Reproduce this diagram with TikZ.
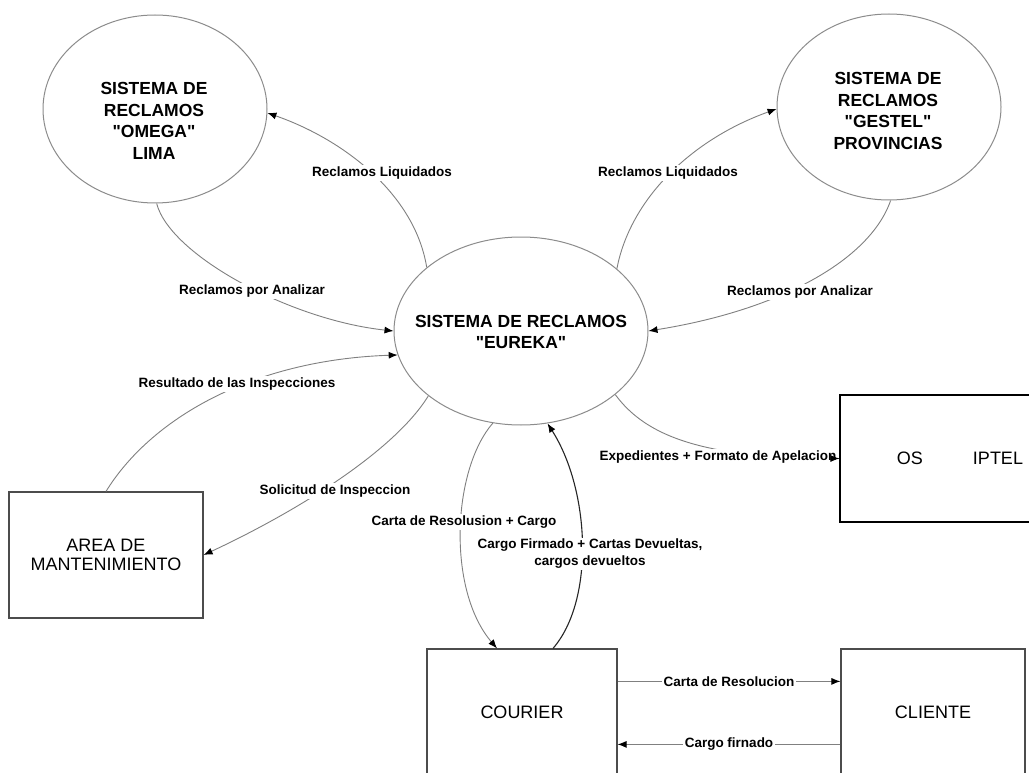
\documentclass[tikz,border=0pt]{standalone}
\usepackage{fontspec}
\setmainfont{Liberation Sans}[Ligatures=TeXOff]
\usetikzlibrary{arrows.meta,shapes.geometric,calc}
\begin{document}
\begin{tikzpicture}[x=1pt,y=-1pt,
  proc/.style={draw=black!45, line width=1pt, ellipse, inner sep=0pt},
  ptext/.style={font=\fontsize{17.5}{21.5}\selectfont\bfseries, align=center, inner sep=0pt},
  ent/.style={draw=black!70, line width=1.2pt, rectangle, inner sep=0pt, font=\fontsize{18}{19.5}\selectfont, align=center},
  flow/.style={draw=black!50, line width=0.9pt, -{Latex[length=9pt,width=7pt,black]}},
  lbl/.style={font=\fontsize{13.5}{17}\selectfont\bfseries, fill=white, inner sep=1.5pt, align=center}
]
\useasboundingbox (0,0) rectangle (1029,773);
\fill[white] (0,0) rectangle (1029,773);

% processes
\node[proc, minimum width=224pt, minimum height=188pt] (omega) at (155,109) {};
\node[ptext] (omegaT) at (154,121) {SISTEMA DE\\RECLAMOS\\"OMEGA"\\LIMA};
\node[proc, minimum width=224pt, minimum height=186pt] (gestel) at (889,107) {};
\node[ptext] (gestelT) at (888,111) {SISTEMA DE\\RECLAMOS\\"GESTEL"\\PROVINCIAS};
\node[proc, minimum width=254pt, minimum height=188pt] (eureka) at (521,331) {};
\node[ptext] (eurekaT) at (521,332) {SISTEMA DE RECLAMOS\\"EUREKA"};

% entities
\node[ent, minimum width=194pt, minimum height=126pt] (area) at (106,555) {AREA DE\\MANTENIMIENTO};
\node[ent, draw=black, minimum width=240pt, minimum height=127pt] (osiptel) at (960,458.5) {OS\hspace{50pt}IPTEL};
\node[ent, minimum width=190pt, minimum height=127pt] (courier) at (522,712.5) {COURIER};
\node[ent, minimum width=184pt, minimum height=127pt] (cliente) at (933,712.5) {CLIENTE};

% flows
\draw[flow] (eureka.146) .. controls (415,195) and (345,140) .. (omega.358);
\node[lbl] (l1) at (382,173) {Reclamos Liquidados};
\draw[flow] (omega.271) .. controls (170,255) and (290,320) .. (eureka.180);
\node[lbl] (l2) at (252,291) {Reclamos por Analizar};
\draw[flow] (eureka.33) .. controls (630,200) and (690,140) .. (gestel.181);
\node[lbl] (l3) at (668,173) {Reclamos Liquidados};
\draw[flow] (gestel.271) .. controls (870,260) and (780,310) .. (eureka.0);
\node[lbl] (l4) at (800,292) {Reclamos por Analizar};
\draw[flow] (area.north) .. controls (150,420) and (250,360) .. (eureka.191);
\node[lbl] (l5) at (237,384) {Resultado de las Inspecciones};
\draw[flow] (eureka.215) .. controls (395,450) and (300,510) .. (area.east);
\node[lbl] (l6) at (335,491) {Solicitud de Inspeccion};
\draw[flow] (eureka.326) .. controls (645,435) and (700,458) .. (osiptel.west);
\node[lbl] (l7) at (718,457) {Expedientes + Formato de Apelacion};
\draw[flow] ([xshift=-8pt]osiptel.west) -- (osiptel.west);

\draw[flow] (eureka.253) .. controls (452,470) and (447,590) .. ([xshift=-25pt]courier.north);
\node[lbl] (l8) at (464,522) {Carta de Resolusion + Cargo};
\draw[flow, draw=black!85, line width=1.1pt] ([xshift=31pt]courier.north) .. controls (595,600) and (590,490) .. (eureka.286);
\node[lbl] (l9) at (590,554) {Cargo Firmado + Cartas Devueltas,\\cargos devueltos};

\draw[flow] ([yshift=-33pt]courier.north east) -- node[lbl] (l10) {Carta de Resolucion} ([yshift=-33pt]cliente.north west);
\draw[flow] ([yshift=-96pt]cliente.north west) -- node[lbl] (l11) {Cargo firnado} ([yshift=-96pt]courier.north east);
\end{tikzpicture}
\end{document}
